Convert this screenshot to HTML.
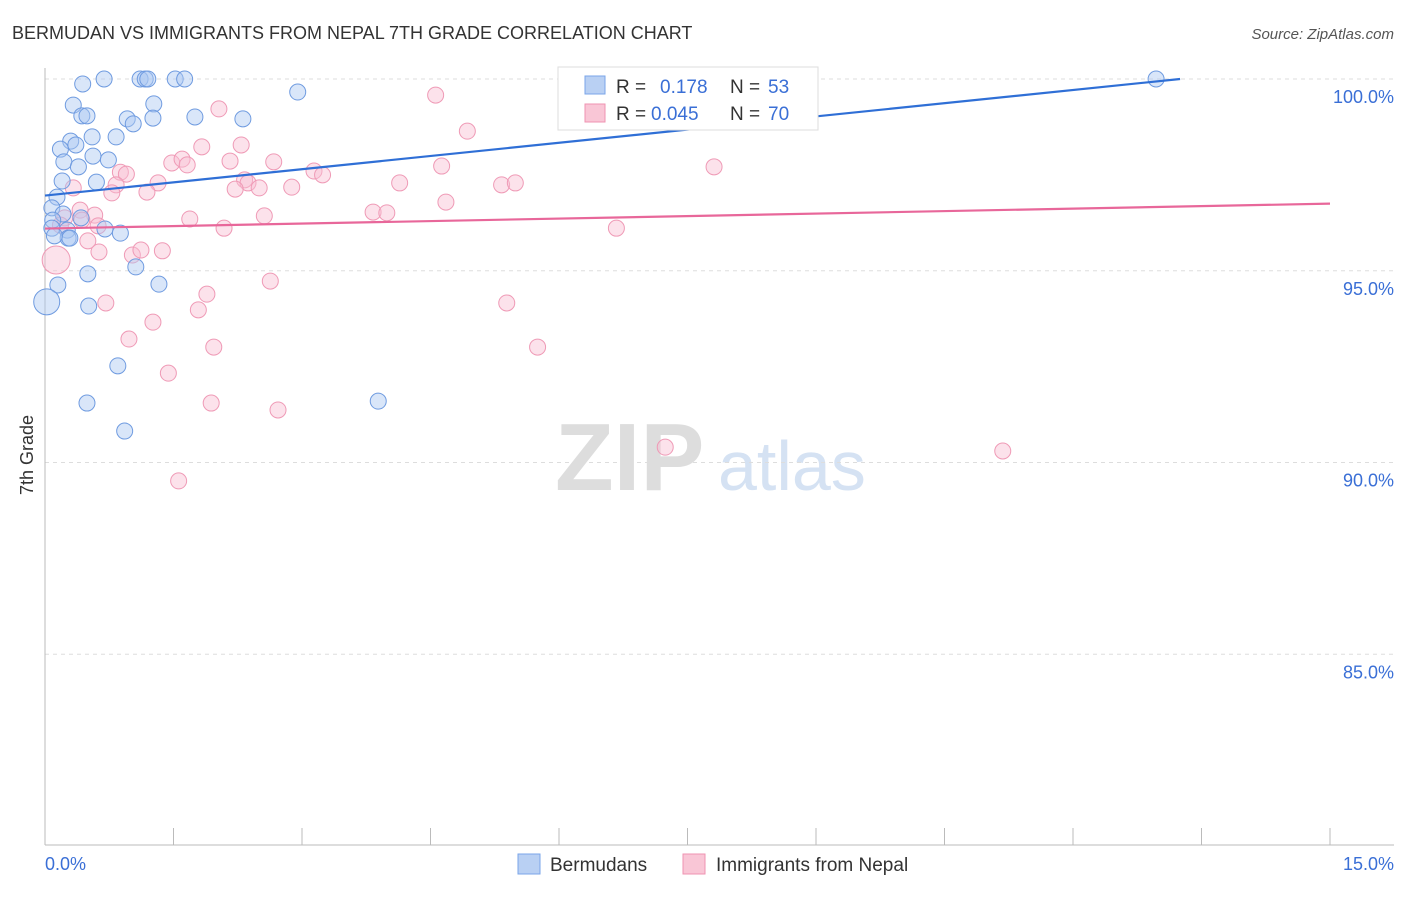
<!DOCTYPE html>
<html><head><meta charset="utf-8"><style>
body{margin:0;background:#fff;font-family:"Liberation Sans",sans-serif}
svg text{font-family:"Liberation Sans",sans-serif}
</style></head><body>
<svg id="chart" width="1406" height="892" viewBox="0 0 1406 892" xmlns="http://www.w3.org/2000/svg">
<text x="12" y="39" font-size="18" fill="#333">BERMUDAN VS IMMIGRANTS FROM NEPAL 7TH GRADE CORRELATION CHART</text>
<text x="1394" y="39" font-size="15" fill="#555" text-anchor="end" font-style="italic">Source: ZipAtlas.com</text>
<text x="555" y="490" font-size="96" fill="#ddd" font-family="Liberation Serif" font-weight="bold">ZIP</text>
<text x="718" y="490" font-size="70" fill="#d5e2f3">atlas</text>
<g id="grid"></g>
<g id="axes"></g>
<g id="pts"></g>
<g id="trend"></g>
<text transform="translate(33,455) rotate(-90)" font-size="18" fill="#333" text-anchor="middle">7th Grade</text>
<g>
<rect x="558" y="67" width="260" height="63" fill="#fff" stroke="#ddd"/>
<rect x="585" y="76" width="20" height="18" fill="#b9d0f3" stroke="#7aa5e8"/>
<text x="616" y="93" font-size="19" fill="#333">R = </text><text x="660" y="93" font-size="19" fill="#3a6fd6">0.178</text>
<text x="730" y="93" font-size="19" fill="#333">N = </text><text x="768" y="93" font-size="19" fill="#3a6fd6">53</text>
<rect x="585" y="104" width="20" height="18" fill="#f9c6d6" stroke="#ef93b1"/>
<text x="616" y="120" font-size="19" fill="#333">R = </text><text x="651" y="120" font-size="19" fill="#3a6fd6">0.045</text>
<text x="730" y="120" font-size="19" fill="#333">N = </text><text x="768" y="120" font-size="19" fill="#3a6fd6">70</text>
</g>
<g>
<rect x="518" y="854" width="22" height="20" fill="#b9d0f3" stroke="#7aa5e8"/>
<text x="550" y="871" font-size="19" fill="#333">Bermudans</text>
<rect x="683" y="854" width="22" height="20" fill="#f9c6d6" stroke="#ef93b1"/>
<text x="716" y="871" font-size="19" fill="#333">Immigrants from Nepal</text>
</g>
</svg>
<script>
const xTicks=[0,1.5,3,4.5,6,7.5,9,10.5,12,13.5,15];
const yTicks=[100,95,90,85];
const yTickLabels=["100.0%","95.0%","90.0%","85.0%"];
const blueX=[0.69,1.11,1.17,1.20,1.52,1.63,0.44,2.95,0.33,1.27,0.43,0.49,0.96,1.26,1.75,2.31,1.03,0.30,0.36,0.83,0.55,0.18,0.56,0.74,0.22,0.39,0.20,0.60,0.14,0.08,0.21,0.09,0.42,0.08,0.26,0.27,0.29,0.70,0.88,0.11,1.06,0.50,0.15,1.33,0.51,0.02,0.85,0.49,3.89,0.93,12.97];
const blueY=[100,100,100,100,100,100,99.87,99.66,99.32,99.35,99.04,99.04,98.96,98.98,99.01,98.96,98.83,98.38,98.28,98.49,98.49,98.17,97.99,97.89,97.84,97.71,97.34,97.31,96.92,96.64,96.48,96.32,96.38,96.11,96.06,95.85,95.85,96.09,95.98,95.91,95.10,94.92,94.63,94.65,94.08,94.19,92.52,91.55,91.60,90.82,100];
const pinkX=[6.21,6.81,7.20,4.56,2.03,4.93,1.83,2.29,1.48,1.60,1.66,2.16,2.67,3.14,3.24,4.63,7.81,0.88,0.95,0.83,1.32,1.19,0.78,0.33,2.33,2.37,2.22,2.50,2.88,4.14,5.33,5.49,4.68,3.83,3.99,2.56,1.69,2.09,6.67,0.41,0.58,0.23,0.43,0.18,0.62,0.50,0.63,1.02,1.12,1.37,0.13,2.63,1.89,1.79,0.71,1.26,5.39,0.98,1.97,5.75,1.44,1.94,2.72,7.24,11.18,1.56];
const pinkY=[100,100,100,99.58,99.22,98.64,98.23,98.28,97.81,97.91,97.76,97.86,97.84,97.60,97.50,97.73,97.71,97.57,97.52,97.24,97.29,97.05,97.03,97.16,97.37,97.29,97.13,97.16,97.18,97.29,97.24,97.29,96.79,96.53,96.51,96.43,96.35,96.11,96.11,96.58,96.45,96.38,96.32,96.19,96.17,95.78,95.49,95.41,95.54,95.52,95.28,94.73,94.39,93.98,94.16,93.66,94.16,93.22,93.01,93.01,92.33,91.55,91.37,90.40,90.30,89.52];
const blueTrend=[[0,96.96],[13.25,100]];
const pinkTrend=[[0,96.1],[15,96.75]];
const X=v=>45+v/15*1285, Y=v=>79+(100-v)*38.35;
const NS="http://www.w3.org/2000/svg";
function mk(p,t,a){const e=document.createElementNS(NS,t);for(const k in a)e.setAttribute(k,a[k]);p.appendChild(e);return e;}
const g=document.getElementById('grid'),ax=document.getElementById('axes'),pts=document.getElementById('pts'),tr=document.getElementById('trend');
yTicks.forEach((v,i)=>{
 const l=mk(g,'line',{x1:45,x2:1394,y1:Y(v),y2:Y(v),stroke:'#ddd','stroke-dasharray':'4,4'});
 
 
 const t=mk(ax,'text',{x:1394,y:Y(v)+24,'font-size':18,fill:'#3a6fd6','text-anchor':'end'});t.textContent=yTickLabels[i];
 
 
});
mk(ax,'line',{x1:45,x2:45,y1:68,y2:845,stroke:'#bbb'});
mk(ax,'line',{x1:45,x2:1394,y1:845,y2:845,stroke:'#bbb'});
xTicks.forEach(v=>{const l=mk(ax,'line',{x1:X(v),x2:X(v),y1:828,y2:845,stroke:'#bbb'});
 
 });
let t=mk(ax,'text',{x:45,y:870,'font-size':18,fill:'#3a6fd6'});t.textContent='0.0%';


t=mk(ax,'text',{x:1394,y:870,'font-size':18,fill:'#3a6fd6','text-anchor':'end'});t.textContent='15.0%';


pinkX.forEach((x,i)=>{const c=mk(pts,'circle',{cx:X(x),cy:Y(pinkY[i]),r:i==50?14:8,fill:'rgba(249,190,210,0.45)',stroke:'#ef9ab6','stroke-width':1});
 
 });
blueX.forEach((x,i)=>{const c=mk(pts,'circle',{cx:X(x),cy:Y(blueY[i]),r:i==45?13:8,fill:'rgba(170,199,242,0.45)',stroke:'#6f9be0','stroke-width':1});
 
 });
let l=mk(tr,'line',{x1:X(blueTrend[0][0]),y1:Y(blueTrend[0][1]),x2:X(blueTrend[1][0]),y2:Y(blueTrend[1][1]),stroke:'#2f6fd6','stroke-width':2.2});


l=mk(tr,'line',{x1:X(pinkTrend[0][0]),y1:Y(pinkTrend[0][1]),x2:X(pinkTrend[1][0]),y2:Y(pinkTrend[1][1]),stroke:'#e8679a','stroke-width':2.2});


</script>
</body></html>
